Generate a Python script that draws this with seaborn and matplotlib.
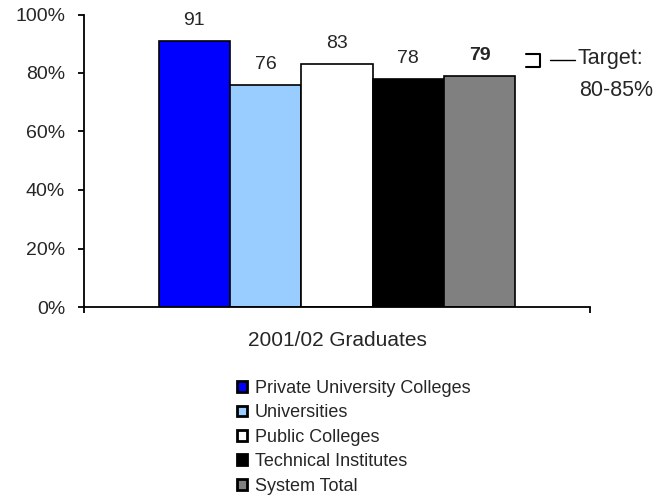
import matplotlib
matplotlib.use('Agg')
import matplotlib.pyplot as plt
import seaborn as sns
import pandas as pd

# data
group = ['2001/02 Graduates']
categories = ['Private University Colleges', 'Universities', 'Public Colleges',
              'Technical Institutes', 'System Total']
values = [91, 76, 83, 78, 79]
colors = ['#0000ff', '#99ccff', '#ffffff', '#000000', '#808080']
yticks = [0, 20, 40, 60, 80, 100]
target_label = 'Target:'
target_range = '80-85%'

sns.set_style('white')
plt.rcParams['font.family'] = ['Liberation Sans', 'DejaVu Sans']

df = pd.DataFrame({'group': group * len(categories), 'category': categories, 'value': values})

fig = plt.figure(figsize=(6.66, 4.96), dpi=100)
ax = fig.add_axes([84/666, 1 - 307/496, (590 - 84)/666, (307 - 14.5)/496])

sns.barplot(data=df, x='group', y='value', hue='category', hue_order=categories,
            palette=colors, width=0.705, edgecolor='black', linewidth=1.2,
            saturation=1, ax=ax, legend=True)

ax.set_xlim(-0.5, 0.5)
ax.set_ylim(0, 100)
ax.set_yticks(yticks)
ax.set_yticklabels([f'{t}%' for t in yticks], fontsize=14)
ax.set_xticks([-0.5, 0.5])
ax.set_xticklabels(['', ''])
ax.set_xlabel(group[0], fontsize=15, labelpad=4)
ax.set_ylabel('')
ax.tick_params(axis='both', direction='out', length=4.5, width=1.3, color='black',
               left=True, bottom=True, pad=9)
for s in ['top', 'right']:
    ax.spines[s].set_visible(False)
for s in ['left', 'bottom']:
    ax.spines[s].set_color('black')
    ax.spines[s].set_linewidth(1.3)

# value labels, one container per hue level
for cont, v, cat in zip(ax.containers, values, categories):
    bar = cont[0]
    ax.text(bar.get_x() + bar.get_width() / 2, bar.get_height() + 7.0, f'{v}',
            ha='center', va='center', fontsize=14,
            fontweight='bold' if cat == 'System Total' else 'normal')

# target bracket annotation (hand placed as in the reference)
ax.plot([0.3735, 0.401, 0.401, 0.3735], [86.5, 86.5, 82.0, 82.0],
        color='black', lw=1.5, clip_on=False)
ax.plot([0.421, 0.470], [84.3, 84.3], color='black', lw=1, clip_on=False)
ax.text(0.476, 84.8, target_label, ha='left', va='center', fontsize=15.5, clip_on=False)
ax.text(0.478, 74.0, target_range, ha='left', va='center', fontsize=15.5, clip_on=False)

leg = ax.legend(loc='upper left', bbox_to_anchor=(237/666, 1 - 380/496),
                bbox_transform=fig.transFigure, frameon=False, fontsize=13,
                handlelength=0.55, handleheight=0.55, handletextpad=0.45,
                labelspacing=0.41, borderaxespad=0, borderpad=0)
for h in leg.legend_handles:
    h.set_edgecolor('black')
    h.set_linewidth(2)

fig.savefig('out.png', dpi=100)
